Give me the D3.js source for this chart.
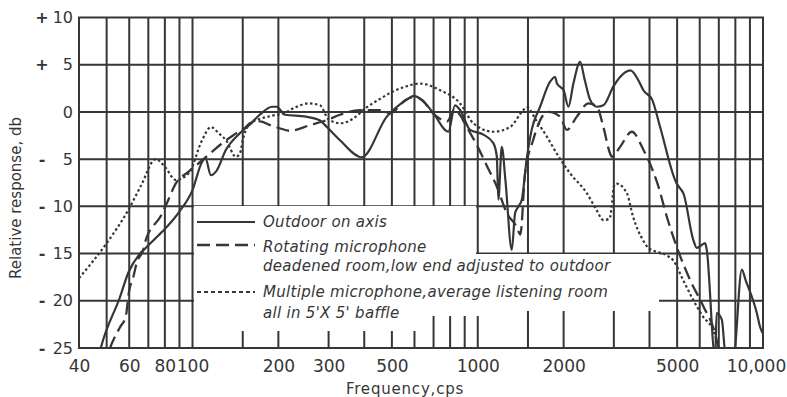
<!DOCTYPE html>
<html><head><meta charset="utf-8">
<script src="https://cdn.jsdelivr.net/npm/d3@7"></script>
<style>body{margin:0;background:#fff;} svg{display:block;}</style>
</head><body>
<svg id="c" width="787" height="397"></svg>
<script>
// ---------- data ----------
const gridFreqs = [40,50,60,70,80,90,100,150,200,300,400,500,600,700,800,900,1000,1500,2000,3000,4000,5000,6000,7000,8000,9000,10000];
const gridDbs = [10,5,0,-5,-10,-15,-20,-25];
const yTickValues = [10,5,0,-5,-10,-15,-20,-25];
const yTickSigns = ["+","+","","-","-","-","-","-"];
const yTickNumbers = ["10","5","0","5","10","15","20","25"];
const xTickValues = [40,60,80,100,200,300,500,1000,2000,5000,10000];
const xTickLabels = ["40","60","80","100","200","300","500","1000","2000","5000","10,000"];

const outdoorFreq = [46,47.7,55.7,59.6,65.5,68.5,78.2,89.7,99.9,108,111,116,121,131,146,158,172,190,197,211,250,280,296,329,392,480,564,595,636,699,789,832,867,940,1046,1134,1166,1181,1214,1250,1316,1352,1390,1427,1483,1545,1654,1793,1867,1896,2000,2079,2164,2285,2371,2476,2614,2757,2990,3155,3430,3707,3808,4086,4358,4985,5122,5255,5702,5860,6268,6350,6795,6880,7172,7410,7876,8427,8690,9513,9775,10000];
const outdoorDb   = [-27,-25,-19.6,-17,-15,-14.4,-12.7,-10.6,-8.3,-5.3,-4.9,-6.7,-6.3,-4,-2.3,-1.4,-0.3,0.55,0.55,-0.3,-0.5,-0.9,-1.6,-3,-4.8,-0.5,1.3,1.7,1.3,-0.15,-2.1,0.7,0.2,-1.9,-2.4,-3.3,-4.7,-9.3,-3.7,-7.2,-14.6,-10.7,-10,-9.3,-5.1,-1.9,0.55,3.2,3.7,3,2.3,0.55,3,5.3,3.4,1.3,0.55,0.7,2.7,3.7,4.4,3,2.3,1.3,-1.6,-7.6,-8.1,-8.6,-13.6,-14.4,-13.9,-14.6,-26,-21.3,-22,-26,-26,-16.7,-17.8,-21.3,-22.8,-23.5];

const rotatingFreq = [49,51.4,55.7,58.3,60,62,63.7,67.2,68.5,77.5,81.2,87.3,97.2,105.4,117.3,127.2,141.8,153.7,159,172.5,187,201,220,258,295.5,329,387,454,493,560,600,640,700,780,830,870,900,1000,1080,1166,1264,1370,1410,1465,1563,1699,1768,1944,2052,2225,2443,2614,2757,2910,2951,3155,3467,3808,3965,4298,4601,4985,5553,6182,6795,6979,7100];
const rotatingDb   = [-27,-25,-22.8,-21.7,-18.9,-17.5,-16,-14.6,-13.6,-11,-9.7,-7.6,-6.3,-5.4,-4.2,-3.3,-2.3,-1.6,-1.2,-1,-1.4,-1.7,-2,-1.4,-0.86,-0.3,0.2,0.2,-0.15,1.3,1.6,1.2,-0.2,-1,0.2,-0.4,-1.2,-3.7,-5.8,-7.9,-10.7,-12.2,-13,-6.5,-3,-0.3,0,-0.5,-1.9,-0.5,0.9,0.6,-1.6,-4.4,-4.75,-3.7,-2.1,-4,-5.1,-7.9,-11.1,-14.3,-17.8,-20.6,-23.5,-25,-26.5];

const multipleFreq = [40,50,59.5,66,74.3,80,87.3,97,108,116,124,131,142,147,150,158,170,190,210,230,255,280,300,330,370,400,450,500,560,628,738,867,965,1134,1298,1445,1483,1610,1746,1900,2107,2411,2600,2757,2900,2960,3000,3070,3330,3504,3799,3965,4601,4839,5248,5689,6170,6686,6880,7100];
const multipleDb   = [-17.6,-13.9,-10.4,-7.8,-5,-5.8,-7.2,-6.5,-3,-1.6,-2.3,-3,-4.75,-4.3,-3,-1.3,-0.8,-0.4,-0.1,0.5,0.9,0.7,-0.8,-1.2,-0.6,0.3,1.3,2.1,2.7,3,2.3,0.9,-1.2,-2.1,-1.6,0.2,0.5,-1,-2.6,-4.5,-6.5,-8.6,-10.3,-11.45,-11.3,-9.5,-7.9,-7.6,-8.6,-11.1,-13.6,-14.4,-15.2,-15.7,-17.8,-19.9,-21.7,-23.1,-24.2,-26];

const legendLabels = [
  ["Outdoor on axis"],
  ["Rotating microphone","deadened room,low end adjusted to outdoor"],
  ["Multiple microphone,average listening room","all in 5'X 5' baffle"]
];

// ---------- drawing ----------
const ink = "#363636";
const svg = d3.select("#c");
const L = 79, R = 763, T = 17.5, B = 348;
const x = d3.scaleLog().domain([40,10000]).range([L,R]);
const y = d3.scaleLinear().domain([-25,10]).range([B,T]);

const grid = svg.append("g").attr("stroke", ink).attr("stroke-width", 2);
grid.selectAll("line.v").data(gridFreqs).join("line")
  .attr("x1", d=>x(d)).attr("x2", d=>x(d)).attr("y1", T).attr("y2", B);
grid.selectAll("line.h").data(gridDbs).join("line")
  .attr("x1", L-1).attr("x2", R+1).attr("y1", d=>y(d)).attr("y2", d=>y(d));

// white legend panels masking the grid
const masks = [[194,206,232,125],[425,206,51,110],[476,254,183,57],[470,254,10,62]];
svg.append("g").selectAll("rect").data(masks).join("rect")
  .attr("x", d=>d[0]).attr("y", d=>d[1]).attr("width", d=>d[2]).attr("height", d=>d[3])
  .attr("fill", "#fff");

svg.append("clipPath").attr("id","plot").append("rect")
  .attr("x", L).attr("y", T).attr("width", R-L).attr("height", B-T);

const line = d3.line().x(d=>x(d[0])).y(d=>y(d[1])).curve(d3.curveMonotoneX);
const curves = svg.append("g").attr("clip-path","url(#plot)")
  .attr("fill","none").attr("stroke", ink).attr("stroke-linejoin","round");
curves.append("path").attr("d", line(d3.zip(multipleFreq, multipleDb)))
  .attr("stroke-width", 2.2).attr("stroke-dasharray","2.5,2.5");
curves.append("path").attr("d", line(d3.zip(rotatingFreq, rotatingDb)))
  .attr("stroke-width", 2.3).attr("stroke-dasharray","13,6");
curves.append("path").attr("d", line(d3.zip(outdoorFreq, outdoorDb)))
  .attr("stroke-width", 2.2);

// axes (labels only)
const font = "'DejaVu Sans', sans-serif";
const xAxis = svg.append("g").attr("transform", `translate(0,${B})`)
  .call(d3.axisBottom(x).tickValues(xTickValues).tickFormat((d,i)=>xTickLabels[i]).tickSize(0).tickPadding(12));
xAxis.select(".domain").remove();
xAxis.selectAll("text").attr("font-family", font).attr("font-size", 17).attr("fill", ink);
xAxis.selectAll("text").filter(d=>d===10000).attr("dx", -7);

const yAxis = svg.append("g").attr("transform", `translate(${L},0)`)
  .call(d3.axisLeft(y).tickValues(yTickValues).tickFormat((d,i)=>yTickNumbers[i]).tickSize(0).tickPadding(6));
yAxis.select(".domain").remove();
yAxis.selectAll("text").attr("font-family", font).attr("font-size", 16).attr("fill", ink);
svg.append("g").selectAll("text").data(yTickValues).join("text")
  .attr("x", 42).attr("y", d=>y(d)).attr("dy","0.35em").attr("text-anchor","middle")
  .attr("font-family", font).attr("font-size", 16).attr("font-weight","bold").attr("fill", ink)
  .text((d,i)=>yTickSigns[i]);

svg.append("text").attr("transform","translate(21,198) rotate(-90)").attr("text-anchor","middle")
  .attr("font-family", font).attr("font-size", 15).attr("fill", ink).text("Relative response, db");
svg.append("text").attr("x", 405).attr("y", 394).attr("text-anchor","middle")
  .attr("font-family", font).attr("font-size", 15).attr("letter-spacing", 0.8).attr("fill", ink).text("Frequency,cps");

// legend
const lg = svg.append("g").attr("stroke", ink).attr("fill","none");
lg.append("line").attr("x1",197).attr("x2",255).attr("y1",222).attr("y2",222).attr("stroke-width",2.2);
lg.append("line").attr("x1",197).attr("x2",255).attr("y1",245).attr("y2",245).attr("stroke-width",2.3).attr("stroke-dasharray","13,6");
lg.append("line").attr("x1",197).attr("x2",255).attr("y1",292).attr("y2",292).attr("stroke-width",2.2).attr("stroke-dasharray","4,3");
const textRows = [[legendLabels[0][0],222],[legendLabels[1][0],247],[legendLabels[1][1],266],[legendLabels[2][0],292],[legendLabels[2][1],313]];
svg.append("g").selectAll("text").data(textRows).join("text")
  .attr("x", 263).attr("y", d=>d[1]).attr("dy","0.35em")
  .attr("font-family", font).attr("font-size", 15).attr("letter-spacing", 0.3).attr("font-style","italic").attr("fill", ink)
  .text(d=>d[0]);
</script>
</body></html>
